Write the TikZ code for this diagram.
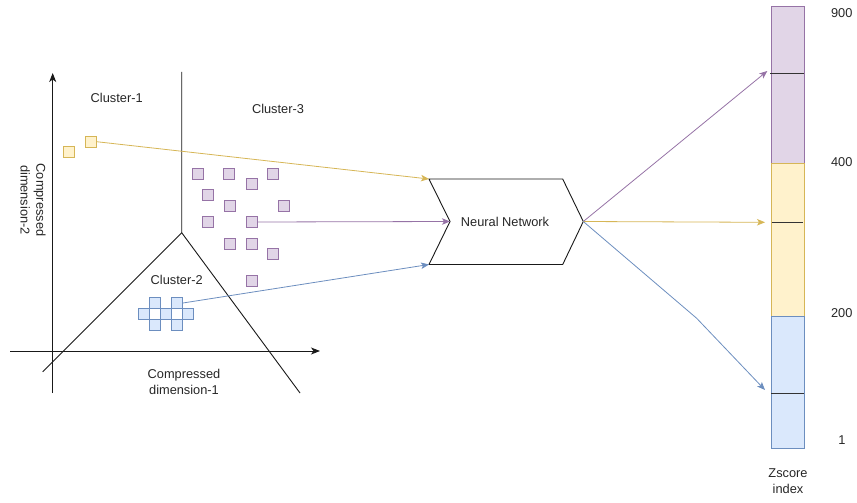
\documentclass[tikz,border=0pt]{standalone}
\usepackage{fontspec}
\setmainfont{Liberation Sans}
\usepackage{xcolor}
\usepackage{tikz}
\usetikzlibrary{arrows.meta}

\definecolor{gelbF}{HTML}{FFF2CC}
\definecolor{gelbR}{HTML}{D6B656}
\definecolor{lilaF}{HTML}{E1D5E7}
\definecolor{lilaR}{HTML}{9673A6}
\definecolor{blauF}{HTML}{DAE8FC}
\definecolor{blauR}{HTML}{6C8EBF}
\definecolor{strich}{HTML}{333333}

\begin{document}
\begin{tikzpicture}[x=1pt,y=-1pt,
  font=\fontsize{12.8}{15.8}\selectfont, text=black!85,
  pkt/.style={minimum size=11pt,inner sep=0pt,line width=0.8pt},
  gpkt/.style={pkt,draw=gelbR,fill=gelbF},
  lpkt/.style={pkt,draw=lilaR,fill=lilaF},
  bpkt/.style={pkt,draw=blauR,fill=blauF},
  pfeil/.style={line width=0.8pt,-{Stealth[length=8pt,width=6.5pt,inset=2pt]}},
  achse/.style={line width=0.9pt,draw=black!90,-{Stealth[length=9pt,width=7pt,inset=2.5pt]}}]

\useasboundingbox (0,0) rectangle (857,503);

\draw[achse] (52.7,393) -- (52.7,73);											% Achse dimension-2
\draw[achse] (10,351) -- (320,351);											% Achse dimension-1
\draw[line width=0.9pt,black!90] (181.7,72) -- (181.7,232.7) -- (42.7,371.7);	% Grenze Cluster-1
\draw[line width=0.9pt,black!90] (181.7,232.7) -- (300,393);					% Grenze Cluster-3

\node (c1) at (116.7,98) {Cluster-1};
\node (c3) at (278,109) {Cluster-3};
\node (c2) at (176.7,280) {Cluster-2};
\node[rotate=-90,align=center] (d2) at (33,200) {Compressed\\dimension-2};
\node[align=center] (d1) at (184,382) {Compressed\\dimension-1};

\node[gpkt] (g1) at (69,152) {};												% Cluster-1 Punkte
\node[gpkt] (g2) at (90.7,141.7) {};

\node[lpkt] (l1) at (197.7,174) {};											% Cluster-3 Punkte
\node[lpkt] (l2) at (229.3,174) {};
\node[lpkt] (l3) at (272.7,174) {};
\node[lpkt] (l4) at (251.7,184.3) {};
\node[lpkt] (l5) at (208.3,195) {};
\node[lpkt] (l6) at (230,205.7) {};
\node[lpkt] (l7) at (283.7,205.7) {};
\node[lpkt] (l8) at (208.3,222) {};
\node[lpkt] (l9) at (251.7,222) {};
\node[lpkt] (l10) at (230,243.7) {};
\node[lpkt] (l11) at (251.7,243.7) {};
\node[lpkt] (l12) at (272.7,254.3) {};
\node[lpkt] (l13) at (251.7,280.7) {};

\node[bpkt] (b1) at (155,303) {};												% Cluster-2 Punkte
\node[bpkt] (b2) at (144,314) {};
\node[bpkt] (b3) at (166,314) {};
\node[bpkt] (b4) at (155,325) {};
\node[bpkt] (b5) at (177,303) {};
\node[bpkt] (b6) at (188,314) {};
\node[bpkt] (b7) at (177,325) {};

\coordinate (nnA) at (429,179);												% Neural Network Umriss
\coordinate (nnB) at (562.7,179);
\coordinate (nnT) at (583.3,221.5);
\coordinate (nnC) at (562.7,264.5);
\coordinate (nnD) at (429,264.5);
\coordinate (nnK) at (450,221.5);
\draw[line width=0.9pt,black!90] (nnA) -- (nnB) -- (nnT) -- (nnC) -- (nnD) -- (nnK) -- cycle;
\node (nn) at (505,221.5) {Neural Network};

\filldraw[draw=lilaR,fill=lilaF,line width=0.8pt] (771.7,6.7) rectangle (804.3,163.3);	% Zscore Balken
\filldraw[draw=gelbR,fill=gelbF,line width=0.8pt] (771.7,163.3) rectangle (804.3,316);
\filldraw[draw=blauR,fill=blauF,line width=0.8pt] (771.7,316) rectangle (804.3,448);
\draw[strich,line width=1pt] (770,73.3) -- (804.3,73.3);						% Markierungen
\draw[strich,line width=1pt] (771.7,222.3) -- (802.7,222.3);
\draw[strich,line width=1pt] (771,393.3) -- (804.3,393.3);
\coordinate (zl) at (767.3,71);
\coordinate (zg) at (765,222.3);
\coordinate (zk) at (696.7,318.3);
\coordinate (zb) at (765,390);

\node (s900) at (841.7,13) {900};
\node (s400) at (841.7,162.5) {400};
\node (s200) at (841.7,313) {200};
\node (s1) at (842,440) {1};
\node[align=center] (zi) at (788,481) {Zscore\\index};

\draw[pfeil,gelbR] (g2.east) -- (nnA);											% Pfeile in das Netz
\draw[pfeil,lilaR] (l9.east) -- (nnK);
\draw[pfeil,blauR] (b5.east) -- (nnD);

\draw[pfeil,lilaR] (nnT) -- (zl);												% Pfeile zum Balken
\draw[pfeil,gelbR] (nnT) -- (zg);
\draw[pfeil,blauR] (nnT) -- (zk) -- (zb);

\end{tikzpicture}
\end{document}
